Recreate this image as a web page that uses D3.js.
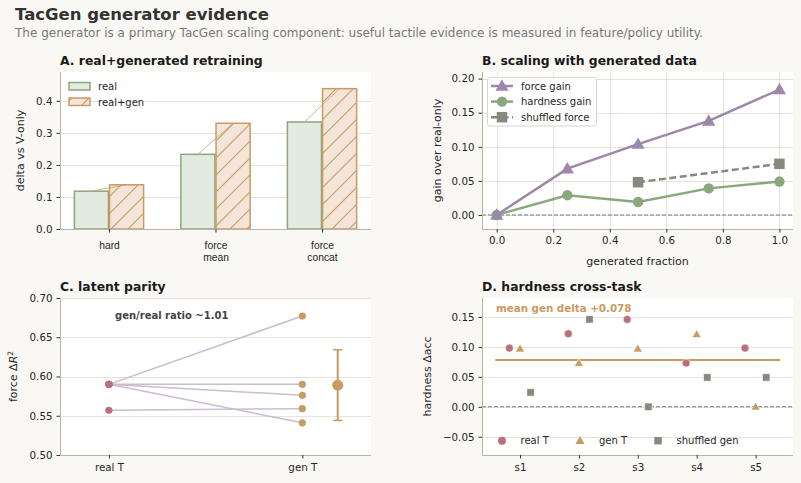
<!DOCTYPE html>
<html><head><meta charset="utf-8">
<script src="https://cdn.jsdelivr.net/npm/d3@7"></script>
<style>
body{margin:0;background:#f9f8f4;}
svg{display:block;font-family:"DejaVu Sans",sans-serif;}
</style></head>
<body><svg id="chart" width="801" height="483"></svg>
<script>
// ---------- data ----------
const categoriesA = ["hard", "force\nmean", "force\nconcat"];
const realA = [0.118, 0.233, 0.334];
const realGenA = [0.138, 0.330, 0.438];
const ticksA = [0.0, 0.1, 0.2, 0.3, 0.4];

const fractionsB = [0, 0.25, 0.5, 0.75, 1.0];
const forceGainB = [0, 0.068, 0.104, 0.138, 0.184];
const hardnessGainB = [0, 0.029, 0.019, 0.039, 0.049];
const shuffledFractionsB = [0.5, 1.0];
const shuffledForceB = [0.048, 0.075];
const xTicksB = [0, 0.2, 0.4, 0.6, 0.8, 1.0];
const yTicksB = [0, 0.05, 0.10, 0.15, 0.20];

const groupsC = ["real T", "gen T"];
const realTC = [0.590, 0.590, 0.590, 0.557, 0.590];
const genTC = [0.677, 0.590, 0.576, 0.559, 0.541];
const genSummaryC = [0.589, 0.544, 0.634]; // mean, low, high
const ticksC = [0.50, 0.55, 0.60, 0.65, 0.70];

const seedsD = ["s1", "s2", "s3", "s4", "s5"];
const realTD = [0.098, 0.122, 0.146, 0.073, 0.098];
const genTD = [0.097, 0.073, 0.097, 0.121, 0.0];
const shuffledD = [0.024, 0.146, 0.0, 0.049, 0.049];
const meanGenD = 0.078;
const ticksD = [-0.05, 0, 0.05, 0.10, 0.15];

// ---------- style ----------
const C = {
  green: "#8aa87c", greenFill: "#e3ebe0",
  tan: "#c99a64", tanFill: "#f3e6d8",
  purple: "#9b88aa", lightPurple: "#c9bdd0",
  gray: "#8a877f", rose: "#b8707a",
  grid: "#e7e3db", spine: "#b9b4aa", tick: "#333", text: "#262626"
};
const TICK_FS = 10.3, LABEL_FS = 11, LEG_FS = 10;
const svg = d3.select("#chart");
const defs = svg.append("defs");
const pat = defs.append("pattern").attr("id", "hatch").attr("patternUnits", "userSpaceOnUse")
  .attr("width", 17).attr("height", 17);
pat.append("rect").attr("width", 17).attr("height", 17).attr("fill", C.tanFill);
pat.append("path").attr("d", "M0,17 L17,0 M-4,4 L4,-4 M13,21 L21,13")
  .attr("stroke", C.tan).attr("stroke-width", 1.1);

svg.append("text").attr("x", 15).attr("y", 20).attr("font-size", 16.5).attr("font-weight", "bold")
  .attr("fill", "#333").text("TacGen generator evidence");
svg.append("text").attr("x", 15).attr("y", 37).attr("font-size", 12).attr("fill", "#777")
  .text("The generator is a primary TacGen scaling component: useful tactile evidence is measured in feature/policy utility.");

function panel(x0, x1, y0, y1, title) {
  const g = svg.append("g");
  g.append("rect").attr("x", x0).attr("y", y0).attr("width", x1 - x0).attr("height", y1 - y0).attr("fill", "#fff");
  svg.append("text").attr("x", x0).attr("y", y0 - 7).attr("font-size", 12.4).attr("font-weight", "bold")
    .attr("fill", "#1a1a1a").text(title);
  return g;
}
function styleAxis(ax) {
  ax.select(".domain").remove();
  ax.selectAll(".tick line").attr("stroke", C.tick);
  ax.selectAll(".tick text").attr("fill", C.text).attr("font-size", TICK_FS).attr("font-family", "DejaVu Sans");
}
function spines(g, x0, x1, y0, y1) {
  g.append("line").attr("x1", x0 + 0.5).attr("x2", x0 + 0.5).attr("y1", y0).attr("y2", y1).attr("stroke", C.spine);
  g.append("line").attr("x1", x0).attr("x2", x1).attr("y1", y1 + 0.5).attr("y2", y1 + 0.5).attr("stroke", C.spine);
}
function yLabel(x, yc, txt) {
  return svg.append("text").attr("transform", `translate(${x},${yc}) rotate(-90)`).attr("text-anchor", "middle")
    .attr("font-size", LABEL_FS).attr("fill", C.text).text(txt);
}
const fmt2 = d3.format(".2f");

// ---------- Panel A ----------
{
  const X0 = 60, X1 = 371, Y0 = 72, Y1 = 229;
  const g = panel(X0, X1, Y0, Y1, "A. real+generated retraining");
  const x = d3.scaleLinear().domain([-0.46, 2.46]).range([X0, X1]);
  const y = d3.scaleLinear().domain([0, 0.49]).range([Y1, Y0]);
  g.selectAll(".gy").data(ticksA).join("line").attr("x1", X0).attr("x2", X1)
    .attr("y1", d => Math.round(y(d)) + 0.5).attr("y2", d => Math.round(y(d)) + 0.5).attr("stroke", C.grid);
  const bw = 0.32, off = 0.165;
  const bwPx = x(bw) - x(0);
  g.selectAll(".br").data(realA).join("rect")
    .attr("x", (d, i) => x(i - off) - bwPx / 2).attr("width", bwPx)
    .attr("y", d => y(d)).attr("height", d => y(0) - y(d))
    .attr("fill", C.greenFill).attr("stroke", C.green).attr("stroke-width", 1.5);
  g.selectAll(".bg").data(realGenA).join("rect")
    .attr("x", (d, i) => x(i + off) - bwPx / 2).attr("width", bwPx)
    .attr("y", d => y(d)).attr("height", d => y(0) - y(d))
    .attr("fill", "url(#hatch)").attr("stroke", C.tan).attr("stroke-width", 1.5);
  g.selectAll(".cn").data(realA).join("line")
    .attr("x1", (d, i) => x(i - off)).attr("y1", d => y(d))
    .attr("x2", (d, i) => x(i + off)).attr("y2", (d, i) => y(realGenA[i]))
    .attr("stroke", C.tan).attr("stroke-opacity", 0.75).attr("stroke-width", 1);
  spines(g, X0, X1, Y0, Y1);
  const ay = g.append("g").attr("transform", `translate(${X0},0)`)
    .call(d3.axisLeft(y).tickValues(ticksA).tickFormat(d3.format(".1f")).tickSize(3.5).tickPadding(4));
  styleAxis(ay);
  const ax = g.append("g").attr("transform", `translate(0,${Y1})`)
    .call(d3.axisBottom(x).tickValues([0, 1, 2]).tickFormat("").tickSize(3.5));
  styleAxis(ax);
  ax.selectAll(".tick").append("text").attr("fill", C.text).attr("font-size", TICK_FS).attr("text-anchor", "middle")
    .each(function (d) {
      const lines = categoriesA[d].split("\n");
      d3.select(this).selectAll("tspan").data(lines).join("tspan")
        .attr("x", 0).attr("y", (l, k) => 19.5 + k * 12).text(l => l);
    });
  yLabel(24, (Y0 + Y1) / 2, "delta vs V-only");
  // legend
  const lg = g.append("g");
  const items = [["real", C.greenFill, C.green], ["real+gen", "url(#hatch)", C.tan]];
  items.forEach((it, i) => {
    lg.append("rect").attr("x", 69).attr("y", 82.5 + i * 15.5).attr("width", 21).attr("height", 7.5)
      .attr("fill", it[1]).attr("stroke", it[2]).attr("stroke-width", 1.5);
    lg.append("text").attr("x", 98).attr("y", 90 + i * 15.5).attr("font-size", LEG_FS).attr("fill", C.text).text(it[0]);
  });
}

// ---------- Panel B ----------
{
  const X0 = 482, X1 = 793, Y0 = 72, Y1 = 229;
  const g = panel(X0, X1, Y0, Y1, "B. scaling with generated data");
  const x = d3.scaleLinear().domain([-0.052, 1.048]).range([X0, X1]);
  const y = d3.scaleLinear().domain([-0.0206, 0.2097]).range([Y1, Y0]);
  g.selectAll(".gy").data(yTicksB).join("line").attr("x1", X0).attr("x2", X1)
    .attr("y1", d => Math.round(y(d)) + 0.5).attr("y2", d => Math.round(y(d)) + 0.5).attr("stroke", C.grid);
  g.selectAll(".gx").data(xTicksB).join("line").attr("y1", Y0).attr("y2", Y1)
    .attr("x1", d => Math.round(x(d)) + 0.5).attr("x2", d => Math.round(x(d)) + 0.5).attr("stroke", C.grid);
  g.append("line").attr("x1", X0).attr("x2", X1).attr("y1", y(0)).attr("y2", y(0))
    .attr("stroke", "#777").attr("stroke-width", 1.1).attr("stroke-dasharray", "4,2");
  const line = d3.line().x(d => x(d[0])).y(d => y(d[1]));
  const tri = d3.symbol().type(d3.symbolTriangle).size(75);
  const sq = d3.symbol().type(d3.symbolSquare).size(110);
  // hardness
  const hd = fractionsB.map((f, i) => [f, hardnessGainB[i]]);
  g.append("path").attr("d", line(hd)).attr("fill", "none").attr("stroke", C.green).attr("stroke-width", 2.5);
  g.selectAll(".hc").data(hd).join("circle").attr("cx", d => x(d[0])).attr("cy", d => y(d[1])).attr("r", 5.2).attr("fill", C.green);
  // force
  const fd = fractionsB.map((f, i) => [f, forceGainB[i]]);
  g.append("path").attr("d", line(fd)).attr("fill", "none").attr("stroke", C.purple).attr("stroke-width", 2.5);
  g.selectAll(".ft").data(fd).join("path").attr("d", tri)
    .attr("transform", d => `translate(${x(d[0])},${y(d[1]) + 1})`).attr("fill", C.purple);
  // shuffled
  const sd = shuffledFractionsB.map((f, i) => [f, shuffledForceB[i]]);
  g.append("path").attr("d", line(sd)).attr("fill", "none").attr("stroke", C.gray).attr("stroke-width", 2.5).attr("stroke-dasharray", "7,3.5");
  g.selectAll(".ss").data(sd).join("path").attr("d", sq)
    .attr("transform", d => `translate(${x(d[0])},${y(d[1])})`).attr("fill", C.gray);
  spines(g, X0, X1, Y0, Y1);
  const ay = g.append("g").attr("transform", `translate(${X0},0)`)
    .call(d3.axisLeft(y).tickValues(yTicksB).tickFormat(fmt2).tickSize(3.5).tickPadding(4));
  styleAxis(ay);
  const ax = g.append("g").attr("transform", `translate(0,${Y1})`)
    .call(d3.axisBottom(x).tickValues(xTicksB).tickFormat(d3.format(".1f")).tickSize(3.5).tickPadding(4));
  styleAxis(ax);
  svg.append("text").attr("x", (X0 + X1) / 2).attr("y", 264.5).attr("text-anchor", "middle").attr("font-size", LABEL_FS)
    .attr("fill", C.text).text("generated fraction");
  yLabel(441, (Y0 + Y1) / 2, "gain over real-only");
  // legend
  const lg = g.append("g");
  lg.append("rect").attr("x", 487.5).attr("y", 77.5).attr("width", 109).attr("height", 48.5).attr("rx", 2.5)
    .attr("fill", "#fff").attr("fill-opacity", 0.85).attr("stroke", "#d6d3cd");
  const items = [["force gain", C.purple, "tri", null], ["hardness gain", C.green, "circ", null], ["shuffled force", C.gray, "sq", "7,3.5"]];
  items.forEach((it, i) => {
    const yy = 86 + i * 15.6;
    lg.append("line").attr("x1", 491).attr("x2", 513).attr("y1", yy).attr("y2", yy)
      .attr("stroke", it[1]).attr("stroke-width", 2.5).attr("stroke-dasharray", it[3]);
    if (it[2] === "tri") lg.append("path").attr("d", tri).attr("transform", `translate(502,${yy + 1})`).attr("fill", it[1]);
    if (it[2] === "circ") lg.append("circle").attr("cx", 502).attr("cy", yy).attr("r", 5.2).attr("fill", it[1]);
    if (it[2] === "sq") lg.append("path").attr("d", sq).attr("transform", `translate(502,${yy})`).attr("fill", it[1]);
    lg.append("text").attr("x", 521).attr("y", yy + 3.6).attr("font-size", LEG_FS).attr("fill", C.text).text(it[0]);
  });
}

// ---------- Panel C ----------
{
  const X0 = 60, X1 = 371, Y0 = 298, Y1 = 455;
  const g = panel(X0, X1, Y0, Y1, "C. latent parity");
  const x = d3.scaleLinear().domain([-0.253, 1.355]).range([X0, X1]);
  const y = d3.scaleLinear().domain([0.5, 0.7]).range([Y1, Y0]);
  g.selectAll(".gy").data(ticksC).join("line").attr("x1", X0).attr("x2", X1)
    .attr("y1", d => Math.round(y(d)) + 0.5).attr("y2", d => Math.round(y(d)) + 0.5).attr("stroke", C.grid);
  g.selectAll(".pl").data(realTC).join("line")
    .attr("x1", x(0)).attr("y1", d => y(d)).attr("x2", x(1)).attr("y2", (d, i) => y(genTC[i]))
    .attr("stroke", C.lightPurple).attr("stroke-width", 1.5);
  g.selectAll(".rp").data(realTC).join("circle").attr("cx", x(0)).attr("cy", d => y(d)).attr("r", 3.6).attr("fill", C.rose);
  g.selectAll(".gp").data(genTC).join("circle").attr("cx", x(1)).attr("cy", d => y(d)).attr("r", 3.6).attr("fill", C.tan);
  const mx = x(1.183);
  g.append("line").attr("x1", mx).attr("x2", mx).attr("y1", y(genSummaryC[1])).attr("y2", y(genSummaryC[2]))
    .attr("stroke", C.tan).attr("stroke-width", 2);
  [genSummaryC[1], genSummaryC[2]].forEach(v => g.append("line").attr("x1", mx - 4.7).attr("x2", mx + 4.7)
    .attr("y1", y(v)).attr("y2", y(v)).attr("stroke", C.tan).attr("stroke-width", 1.5));
  g.append("circle").attr("cx", mx).attr("cy", y(genSummaryC[0])).attr("r", 5.5).attr("fill", C.tan);
  g.append("text").attr("x", 115).attr("y", 318.5).attr("font-size", 10).attr("font-weight", "bold").attr("fill", "#444")
    .text("gen/real ratio ~1.01");
  spines(g, X0, X1, Y0, Y1);
  const ay = g.append("g").attr("transform", `translate(${X0},0)`)
    .call(d3.axisLeft(y).tickValues(ticksC).tickFormat(fmt2).tickSize(3.5).tickPadding(4));
  styleAxis(ay);
  const ax = g.append("g").attr("transform", `translate(0,${Y1})`)
    .call(d3.axisBottom(x).tickValues([0, 1]).tickFormat(d => groupsC[d]).tickSize(3.5).tickPadding(5));
  styleAxis(ax);
  const yl = svg.append("text").attr("transform", `translate(17,${(Y0 + Y1) / 2}) rotate(-90)`).attr("text-anchor", "middle")
    .attr("font-size", LABEL_FS).attr("fill", C.text);
  yl.append("tspan").text("force Δ");
  yl.append("tspan").attr("font-style", "italic").text("R");
  yl.append("tspan").attr("font-size", 7.5).attr("dy", -4.5).text("2");
}

// ---------- Panel D ----------
{
  const X0 = 482, X1 = 793, Y0 = 298, Y1 = 455;
  const g = panel(X0, X1, Y0, Y1, "D. hardness cross-task");
  const x = d3.scaleLinear().domain([-0.645, 4.635]).range([X0, X1]);
  const y = d3.scaleLinear().domain([-0.0805, 0.1817]).range([Y1, Y0]);
  g.selectAll(".gy").data(ticksD).join("line").attr("x1", X0).attr("x2", X1)
    .attr("y1", d => Math.round(y(d)) + 0.5).attr("y2", d => Math.round(y(d)) + 0.5).attr("stroke", C.grid);
  g.append("line").attr("x1", X0).attr("x2", X1).attr("y1", y(0)).attr("y2", y(0))
    .attr("stroke", "#777").attr("stroke-width", 1.1).attr("stroke-dasharray", "4,2");
  g.append("line").attr("x1", x(-0.42)).attr("x2", x(4.42)).attr("y1", y(meanGenD)).attr("y2", y(meanGenD))
    .attr("stroke", C.tan).attr("stroke-width", 2);
  const triS = d3.symbol().type(d3.symbolTriangle).size(36);
  const sqS = d3.symbol().type(d3.symbolSquare).size(56);
  const off = 0.18;
  g.selectAll(".rc").data(realTD).join("circle").attr("cx", (d, i) => x(i - off)).attr("cy", d => y(d))
    .attr("r", 4).attr("fill", C.rose).attr("stroke", "#fff").attr("stroke-width", 0.6);
  g.selectAll(".gt").data(genTD).join("path").attr("d", triS)
    .attr("transform", (d, i) => `translate(${x(i)},${y(d) + 0.6})`).attr("fill", C.tan).attr("stroke", "#fff").attr("stroke-width", 0.6);
  g.selectAll(".sh").data(shuffledD).join("path").attr("d", sqS)
    .attr("transform", (d, i) => `translate(${x(i + off)},${y(d)})`).attr("fill", C.gray).attr("stroke", "#fff").attr("stroke-width", 0.6);
  g.append("text").attr("x", 496).attr("y", 312).attr("font-size", 10.3).attr("font-weight", "bold").attr("fill", C.tan)
    .text("mean gen delta +0.078");
  spines(g, X0, X1, Y0, Y1);
  const ay = g.append("g").attr("transform", `translate(${X0},0)`)
    .call(d3.axisLeft(y).tickValues(ticksD).tickFormat(d => d < 0 ? "\u2212" + fmt2(-d) : fmt2(d)).tickSize(3.5).tickPadding(4));
  styleAxis(ay);
  const ax = g.append("g").attr("transform", `translate(0,${Y1})`)
    .call(d3.axisBottom(x).tickValues([0, 1, 2, 3, 4]).tickFormat(d => seedsD[d]).tickSize(3.5).tickPadding(5));
  styleAxis(ax);
  yLabel(431, (Y0 + Y1) / 2, "hardness Δacc");
  // legend
  const ly = 440.7;
  g.append("circle").attr("cx", 502).attr("cy", ly).attr("r", 4).attr("fill", C.rose);
  g.append("text").attr("x", 520.5).attr("y", ly + 3.6).attr("font-size", LEG_FS).attr("fill", C.text).text("real T");
  g.append("path").attr("d", triS).attr("transform", `translate(580,${ly + 0.6})`).attr("fill", C.tan);
  g.append("text").attr("x", 599).attr("y", ly + 3.6).attr("font-size", LEG_FS).attr("fill", C.text).text("gen T");
  g.append("path").attr("d", sqS).attr("transform", `translate(658,${ly})`).attr("fill", C.gray);
  g.append("text").attr("x", 676.5).attr("y", ly + 3.6).attr("font-size", LEG_FS).attr("fill", C.text).text("shuffled gen");
}
</script></body></html>
